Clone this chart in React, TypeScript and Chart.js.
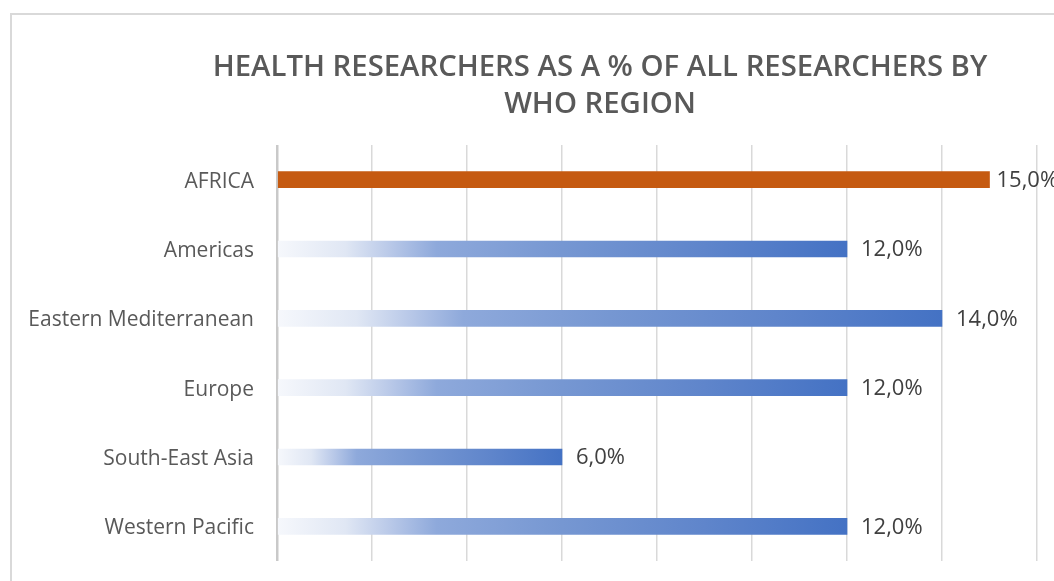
import React, { useEffect, useRef } from "react";
import { Chart, registerables } from "chart.js";

Chart.register(...registerables);

const categories = [
  "AFRICA",
  "Americas",
  "Eastern Mediterranean",
  "Europe",
  "South-East Asia",
  "Western Pacific",
];
const values = [15, 12, 14, 12, 6, 12];
const titleLines = ["HEALTH RESEARCHERS AS A % OF ALL RESEARCHERS BY", "WHO REGION"];
const axisMin = 0;
const axisMax = 16;
const axisStep = 2;
const highlightIndex = 0;

const ORANGE = "#C55A11";
const TEXT = "#595959";
const FONT = "'Open Sans', Lato, sans-serif";

function fmt(v: number) {
  return v.toFixed(1).replace(".", ",") + "%";
}

export default function App() {
  const ref = useRef<HTMLCanvasElement>(null);

  useEffect(() => {
    const canvas = ref.current;
    if (!canvas) return;

    const framePlugin = {
      id: "frame",
      beforeDraw(chart: any) {
        const c = chart.ctx;
        c.save();
        c.strokeStyle = "#d9d9d9";
        c.lineWidth = 2;
        c.strokeRect(11, 14, 1100, 600);
        c.restore();
      },
    };

    const titlePlugin = {
      id: "customTitle",
      afterDraw(chart: any) {
        const c = chart.ctx;
        c.save();
        c.fillStyle = TEXT;
        c.font = `600 29.3px ${FONT}`;
        c.textAlign = "center";
        c.textBaseline = "middle";
        titleLines.forEach((line, i) => c.fillText(line, 600, 68 + i * 37));
        c.restore();
      },
    };

    const valueLabelPlugin = {
      id: "valueLabels",
      afterDatasetsDraw(chart: any) {
        const c = chart.ctx;
        const meta = chart.getDatasetMeta(0);
        c.save();
        c.fillStyle = "#404040";
        c.font = `22px ${FONT}`;
        c.textAlign = "left";
        c.textBaseline = "middle";
        meta.data.forEach((el: any, i: number) => {
          const off = i === highlightIndex ? 7 : 14;
          c.fillText(fmt(values[i]), el.x + off, el.y + 1);
        });
        c.restore();
      },
    };

    const chart = new Chart(canvas, {
      type: "bar",
      data: {
        labels: categories,
        datasets: [
          {
            data: values,
            backgroundColor: (ctx: any) => {
              if (ctx.type !== "data") return "#4472C4";
              if (ctx.dataIndex === highlightIndex) return ORANGE;
              const chartI = ctx.chart;
              const xs = chartI.scales?.x;
              if (!xs || !chartI.chartArea) return "#4472C4";
              const x0 = xs.getPixelForValue(0);
              const x1 = xs.getPixelForValue(ctx.raw);
              const g = chartI.ctx.createLinearGradient(x0, 0, x1, 0);
              g.addColorStop(0, "rgb(246,248,252)");
              g.addColorStop(0.12, "rgb(224,231,244)");
              g.addColorStop(0.2, "rgb(184,200,232)");
              g.addColorStop(0.28, "rgb(142,169,219)");
              g.addColorStop(0.5, "rgb(118,151,210)");
              g.addColorStop(0.75, "rgb(95,133,203)");
              g.addColorStop(1, "rgb(68,114,196)");
              return g;
            },
            borderWidth: 0,
            barThickness: 16,
          },
        ],
      },
      options: {
        indexAxis: "y",
        responsive: false,
        animation: false,
        layout: { padding: { top: 145, bottom: 20, right: 17, left: 0 } },
        plugins: {
          legend: { display: false },
          title: { display: false },
          tooltip: { enabled: false },
        },
        scales: {
          x: {
            min: axisMin,
            max: axisMax,
            ticks: { display: false, stepSize: axisStep },
            border: { display: false },
            grid: {
              drawTicks: false,
              color: (ctx: any) => (ctx.tick && ctx.tick.value === 0 ? "#c9c9c9" : "#d9d9d9"),
              lineWidth: (ctx: any) => (ctx.tick && ctx.tick.value === 0 ? 2.5 : 1.5),
            },
            afterFit: (scale: any) => {
              scale.height = 0;
            },
          },
          y: {
            grid: { display: false, drawTicks: false },
            border: { display: false },
            ticks: {
              color: TEXT,
              padding: 23,
              labelOffset: 2,
              font: { family: FONT, size: 21 },
            },
            afterFit: (scale: any) => {
              scale.width = 277;
              scale.paddingTop = 0;
              scale.paddingBottom = 0;
            },
          },
        },
      },
      plugins: [framePlugin, titlePlugin, valueLabelPlugin],
    } as any);

    return () => chart.destroy();
  }, []);

  return (
    <div style={{ position: "fixed", left: 0, top: 0, width: 1054, height: 581, background: "#fff" }}>
      <canvas ref={ref} width={1054} height={581} style={{ width: 1054, height: 581, display: "block" }} />
    </div>
  );
}
